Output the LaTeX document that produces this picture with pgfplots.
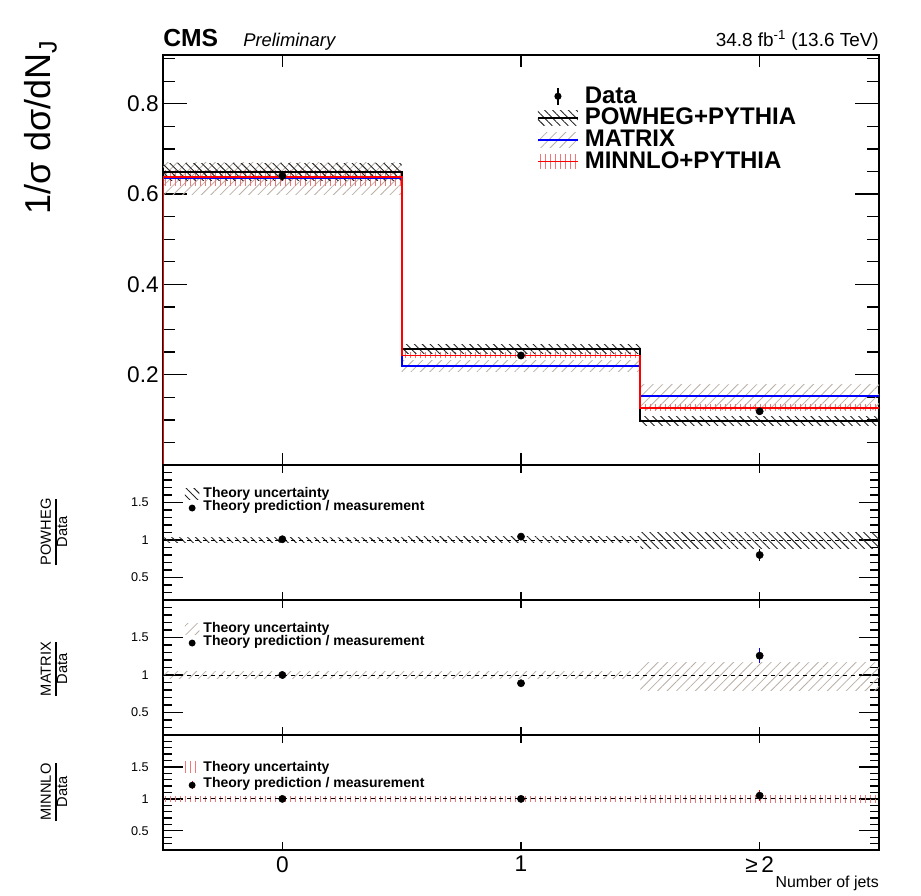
\documentclass[border=0pt]{standalone}
\usepackage{fontspec}
\setmainfont{Liberation Sans}
\usepackage{pgfplots}
\pgfplotsset{compat=1.18}
\usetikzlibrary{patterns.meta}

\definecolor{mxgray}{RGB}{185,175,165}
\definecolor{mnred}{RGB}{238,120,120}

\tikzset{
 hatchP/.style={pattern={Lines[angle=-45,distance=4.2pt,line width=0.7pt]}, pattern color=black!85},
 hatchM/.style={pattern={Lines[angle=45,distance=5pt,line width=0.6pt]}, pattern color=mxgray},
 hatchN/.style={pattern={Lines[angle=90,distance=3.75pt,line width=0.6pt]}, pattern color=mnred},
}

\pgfplotsset{
 base/.style={scale only axis, width=537pt, xmin=-0.5, xmax=2.5, xtick={0,1,2},
   tick align=inside, xtick pos=both, ytick pos=both,
   axis line style={line width=1.4pt}, tick style={line width=1pt, black},
   /pgf/number format/assume math mode=true, anchor=south west,
   legend cell align=left},
 ratio/.style={base, height=#1, ymin=0.2, ymax=2.0, ytick={0.5,1,1.5},
   minor ytick={0.3,0.4,0.6,0.7,0.8,0.9,1.1,1.2,1.3,1.4,1.6,1.7,1.8,1.9},
   yticklabel style={font=\fontsize{9.5}{10}\selectfont, inner sep=0pt, xshift=-10.5pt},
   ytick style={/pgfplots/major tick length=15pt,/pgfplots/minor tick length=7pt},
   xtick style={/pgfplots/major tick length=6pt}, xticklabels={},
   legend style={draw=none, fill=none, at={(rel axis cs:0.0245,0.855)}, anchor=north west,
     nodes={inner sep=0pt, font=\fontsize{10.5}{10.5}\bfseries\selectfont, text height=7.6pt, text depth=2pt},
     row sep=0pt, column sep=3pt}},
}

\begin{document}
\begin{tikzpicture}
\useasboundingbox (0,0) rectangle (690.75pt,672pt);

% ---------------- main panel ----------------
\begin{axis}[base, at={(122.25pt,323.25pt)}, height=307.5pt,
  ymin=0, ymax=0.908, ytick={0.2,0.4,0.6,0.8},
  minor ytick={0.05,0.1,0.15,0.25,0.3,0.35,0.45,0.5,0.55,0.65,0.7,0.75,0.85,0.9},
  xticklabels={},
  yticklabel style={font=\fontsize{17}{17}\selectfont, inner sep=0pt, xshift=-3pt},
  ytick style={/pgfplots/major tick length=18pt,/pgfplots/minor tick length=9pt},
  xtick style={/pgfplots/major tick length=9pt},
  legend style={draw=none, fill=none, at={(rel axis cs:0.5165,0.933)}, anchor=north west,
     nodes={inner sep=0pt, font=\fontsize{18}{18}\bfseries\selectfont, text height=13.4pt, text depth=2.9pt},
     row sep=0pt, column sep=4.5pt}]

\addlegendimage{legend image code/.code={\path[draw=none] (0pt,-5.5pt) rectangle (30pt,5.5pt);
   \draw[draw=black, line width=1pt] (15pt,-6.5pt) -- (15pt,6.5pt); \fill[black, draw=none] (15pt,0pt) circle (2.7pt);}}
\addlegendentry{Data}
\addlegendimage{legend image code/.code={\path[hatchP, draw=none] (0pt,-5.5pt) rectangle (30pt,5.5pt);
   \draw[draw=black, line width=1.3pt] (0pt,0pt) -- (30pt,0pt);}}
\addlegendentry{POWHEG+PYTHIA}
\addlegendimage{legend image code/.code={\path[hatchM, draw=none] (0pt,-5.5pt) rectangle (30pt,5.5pt);
   \draw[draw=blue, line width=1.3pt] (0pt,0pt) -- (30pt,0pt);}}
\addlegendentry{MATRIX}
\addlegendimage{legend image code/.code={\path[hatchN, draw=none] (0pt,-5.5pt) rectangle (30pt,5.5pt);
   \draw[draw=red, line width=1.3pt] (0pt,0pt) -- (30pt,0pt);}}
\addlegendentry{MINNLO+PYTHIA}

% MATRIX uncertainty
\addplot[draw=none, hatchM, forget plot] coordinates {(-0.5,0.600)(0.5,0.600)(0.5,0.670)(-0.5,0.670)} -- cycle;
\addplot[draw=none, hatchM, forget plot] coordinates {(0.5,0.208)(1.5,0.208)(1.5,0.232)(0.5,0.232)} -- cycle;
\addplot[draw=none, hatchM, forget plot] coordinates {(1.5,0.122)(2.5,0.122)(2.5,0.178)(1.5,0.178)} -- cycle;
% MINNLO uncertainty
\addplot[draw=none, hatchN, forget plot] coordinates {(-0.5,0.620)(0.5,0.620)(0.5,0.652)(-0.5,0.652)} -- cycle;
\addplot[draw=none, hatchN, forget plot] coordinates {(0.5,0.236)(1.5,0.236)(1.5,0.249)(0.5,0.249)} -- cycle;
\addplot[draw=none, hatchN, forget plot] coordinates {(1.5,0.120)(2.5,0.120)(2.5,0.134)(1.5,0.134)} -- cycle;
% POWHEG uncertainty
\addplot[draw=none, hatchP, forget plot] coordinates {(-0.5,0.630)(0.5,0.630)(0.5,0.668)(-0.5,0.668)} -- cycle;
\addplot[draw=none, hatchP, forget plot] coordinates {(0.5,0.246)(1.5,0.246)(1.5,0.267)(0.5,0.267)} -- cycle;
\addplot[draw=none, hatchP, forget plot] coordinates {(1.5,0.087)(2.5,0.087)(2.5,0.107)(1.5,0.107)} -- cycle;

% predictions
\addplot[const plot, black, line width=1.4pt, forget plot] coordinates {(-0.5,0)(-0.5,0.649)(0.5,0.256)(1.5,0.097)(2.5,0.097)};
\addplot[const plot, blue, line width=1.4pt, forget plot] coordinates {(-0.5,0)(-0.5,0.635)(0.5,0.219)(1.5,0.152)(2.5,0.152)};
\addplot[const plot, red, line width=1.4pt, forget plot] coordinates {(-0.5,0)(-0.5,0.637)(0.5,0.2425)(1.5,0.127)(2.5,0.127)};

% data
\addplot[only marks, mark=*, mark size=2.7pt, black, forget plot,
  error bars/.cd, y dir=both, y explicit, error mark=none, error bar style={line width=1pt}]
  coordinates {(0,0.640) +- (0,0.008) (1,0.2425) +- (0,0.008) (2,0.119) +- (0,0.006)};
\end{axis}

% ---------------- ratio POWHEG ----------------
\begin{axis}[ratio=101.25pt, at={(122.25pt,222pt)}]
\addlegendimage{legend image code/.code={\path[hatchP, draw=none] (0pt,-4pt) rectangle (11pt,4pt);}}
\addlegendentry{Theory uncertainty}
\addlegendimage{legend image code/.code={\path[draw=none] (0pt,-4pt) rectangle (11pt,4pt); \fill[black, draw=none] (5.5pt,-1pt) circle (2.6pt);}}
\addlegendentry{Theory prediction / measurement}
\addplot[draw=none, hatchP, forget plot] coordinates {(-0.5,0.965)(0.5,0.965)(0.5,1.035)(-0.5,1.035)} -- cycle;
\addplot[draw=none, hatchP, forget plot] coordinates {(0.5,0.96)(1.5,0.96)(1.5,1.04)(0.5,1.04)} -- cycle;
\addplot[draw=none, hatchP, forget plot] coordinates {(1.5,0.885)(2.5,0.885)(2.5,1.095)(1.5,1.095)} -- cycle;
\addplot[black, dashed, line width=0.7pt, forget plot] coordinates {(-0.5,1)(2.5,1)};
\addplot[only marks, mark=*, mark size=2.7pt, black, forget plot,
  error bars/.cd, y dir=both, y explicit, error mark=none, error bar style={line width=1pt, black}]
  coordinates {(0,1.01) +- (0,0.015) (1,1.045) +- (0,0.02) (2,0.80) +- (0,0.085)};
\end{axis}

% ---------------- ratio MATRIX ----------------
\begin{axis}[ratio=101.25pt, at={(122.25pt,120.75pt)}]
\addlegendimage{legend image code/.code={\path[hatchM, draw=none] (0pt,-4pt) rectangle (11pt,4pt);}}
\addlegendentry{Theory uncertainty}
\addlegendimage{legend image code/.code={\path[draw=none] (0pt,-4pt) rectangle (11pt,4pt); \fill[black, draw=none] (5.5pt,-1pt) circle (2.6pt);}}
\addlegendentry{Theory prediction / measurement}
\addplot[draw=none, hatchM, forget plot] coordinates {(-0.5,0.955)(0.5,0.955)(0.5,1.04)(-0.5,1.04)} -- cycle;
\addplot[draw=none, hatchM, forget plot] coordinates {(0.5,0.95)(1.5,0.95)(1.5,1.05)(0.5,1.05)} -- cycle;
\addplot[draw=none, hatchM, forget plot] coordinates {(1.5,0.79)(2.5,0.79)(2.5,1.165)(1.5,1.165)} -- cycle;
\addplot[black, dashed, line width=0.7pt, forget plot] coordinates {(-0.5,1)(2.5,1)};
\addplot[only marks, mark=*, mark size=2.7pt, black, forget plot,
  error bars/.cd, y dir=both, y explicit, error mark=none, error bar style={line width=1pt, blue}]
  coordinates {(0,1.0) +- (0,0.015) (1,0.89) +- (0,0.02) (2,1.257) +- (0,0.1)};
\end{axis}

% ---------------- ratio MINNLO ----------------
\begin{axis}[ratio=86.25pt, at={(122.25pt,34.5pt)}, xticklabels={0,1,{≥\,2}},
  xticklabel style={font=\fontsize{17}{17}\selectfont, inner sep=0pt, yshift=-4.5pt},
  legend style={at={(rel axis cs:0.0245,0.80)}, row sep=2.8pt}]
\addlegendimage{legend image code/.code={\path[hatchN, draw=none] (0pt,-4pt) rectangle (11pt,4pt);}}
\addlegendentry{Theory uncertainty}
\addlegendimage{legend image code/.code={\path[draw=none] (0pt,-4pt) rectangle (11pt,4pt); \draw[draw=red, line width=0.8pt] (5.5pt,-4pt)--(5.5pt,2pt); \fill[black, draw=none] (5.5pt,-1pt) circle (2.6pt);}}
\addlegendentry{Theory prediction / measurement}
\addplot[draw=none, hatchN, forget plot] coordinates {(-0.5,0.955)(0.5,0.955)(0.5,1.045)(-0.5,1.045)} -- cycle;
\addplot[draw=none, hatchN, forget plot] coordinates {(0.5,0.955)(1.5,0.955)(1.5,1.045)(0.5,1.045)} -- cycle;
\addplot[draw=none, hatchN, forget plot] coordinates {(1.5,0.94)(2.5,0.94)(2.5,1.06)(1.5,1.06)} -- cycle;
\addplot[black, dashed, line width=0.7pt, forget plot] coordinates {(-0.5,1)(2.5,1)};
\addplot[only marks, mark=*, mark size=2.7pt, black, forget plot,
  error bars/.cd, y dir=both, y explicit, error mark=none, error bar style={line width=1pt, red}]
  coordinates {(0,1.0) +- (0,0.012) (1,1.0) +- (0,0.02) (2,1.05) +- (0,0.09)};
\end{axis}

% ---------------- texts ----------------
\node[anchor=base west, inner sep=0pt, font=\fontsize{18.5}{18}\bfseries\selectfont] at (122.25pt,637pt) {CMS};
\node[anchor=base west, inner sep=0pt, font=\fontsize{13.8}{14}\itshape\selectfont] at (182.25pt,637pt) {Preliminary};
\node[anchor=base east, inner sep=0pt, font=\fontsize{14.2}{14}\selectfont] at (659.25pt,637pt) {34.8 fb\textsuperscript{-1} (13.6 TeV)};
\node[anchor=east, rotate=90, inner sep=0pt, font=\fontsize{27}{27}\selectfont] at (30.5pt,642pt) {1/σ dσ/dN\textsubscript{J}};
\node[anchor=base east, inner sep=0pt, font=\fontsize{11.9}{12}\selectfont] at (659.25pt,6.4pt) {Number of jets};
\setlength\arrayrulewidth{1.5pt}
\renewcommand\arraystretch{0.85}
\node[rotate=90, inner sep=0pt, font=\fontsize{11}{12}\selectfont] at (42pt,273pt) {\begin{tabular}{@{}c@{}}POWHEG\\\hline Data\end{tabular}};
\node[rotate=90, inner sep=0pt, font=\fontsize{11}{12}\selectfont] at (42pt,170.25pt) {\begin{tabular}{@{}c@{}}MATRIX\\\hline Data\end{tabular}};
\node[rotate=90, inner sep=0pt, font=\fontsize{11}{12}\selectfont] at (42pt,78pt) {\begin{tabular}{@{}c@{}}MINNLO\\\hline Data\end{tabular}};
\end{tikzpicture}
\end{document}
